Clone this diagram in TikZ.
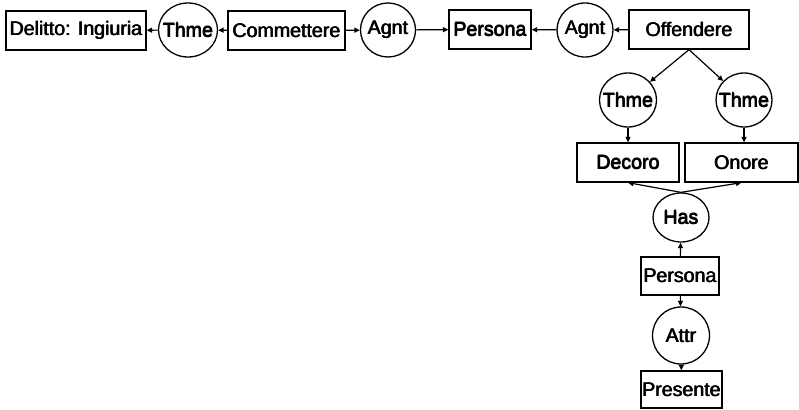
\documentclass[tikz,border=0pt]{standalone}
\usepackage{fontspec}
\setmainfont{Liberation Sans}
\usetikzlibrary{shapes.geometric,arrows.meta}
\newcommand{\hv}[1]{\rlap{#1}\rlap{\kern0.35pt\raisebox{0.3pt}{#1}}\kern0.7pt#1}
\newcommand{\ztxt}[1]{\makebox[0pt]{\hv{#1}}}
\begin{document}
\begin{tikzpicture}[x=1pt,y=-1pt,
  every node/.style={font=\fontsize{19.6}{22}\selectfont, inner sep=0pt, line width=1.3pt},
  cbox/.style={draw, rectangle, minimum height=39pt},
  rel/.style={draw, ellipse},
  link/.style={line width=1.2pt, -{Triangle[length=5.5pt,width=5pt]}}]
\useasboundingbox (0,0) rectangle (799,409);
% top row
\node[cbox, minimum width=140pt] (del) at (76,30.5) {\hv{Delitto: Ingiuria}};
\node[rel, minimum width=59pt, minimum height=54pt] (th1) at (188,30) {\ztxt{Thme}};
\node[cbox, minimum width=117pt] (com) at (286.5,30.5) {\hv{Commettere}};
\node[rel, minimum width=55pt, minimum height=54pt] (ag1) at (388,30) {\ztxt{Agnt}};
\node[cbox, minimum width=82pt] (per1) at (490,29.5) {\hv{Persona}};
\node[rel, minimum width=56pt, minimum height=54pt] (ag2) at (585,30) {\ztxt{Agnt}};
\node[cbox, minimum width=120pt] (off) at (689,29.5) {\hv{Offendere}};
% second row
\node[rel, minimum width=57pt, minimum height=54pt] (thl) at (628,100) {\ztxt{Thme}};
\node[rel, minimum width=56pt, minimum height=54pt] (thr) at (744,100) {\ztxt{Thme}};
% third row
\node[cbox, minimum width=102pt] (dec) at (628,162.5) {\hv{Decoro}};
\node[cbox, minimum width=113pt] (ono) at (741.5,162.5) {\hv{Onore}};
% lower column
\node[rel, minimum width=56pt, minimum height=49pt] (has) at (681,217.5) {\ztxt{Has}};
\node[cbox, minimum width=78pt, minimum height=38pt] (per2) at (680,276) {\hv{Persona}};
\node[rel, minimum width=57pt, minimum height=57pt] (att) at (681,335.5) {\ztxt{Attr}};
\node[cbox, minimum width=81pt, minimum height=37pt] (pre) at (681.5,389.5) {\hv{Presente}};
% connectors
\draw[link] (th1) -- (del);
\draw[link] (com) -- (th1);
\draw[link] (com) -- (ag1);
\draw[link] (ag1) -- (per1);
\draw[link] (ag2) -- (per1);
\draw[link] (off) -- (ag2);
\draw[link] (off.south) -- (thl);
\draw[link] (off.south) -- (thr);
\draw[link] (thl) -- (dec);
\draw[link] (thr) -- (ono.north -| thr);
\draw[link] (has.north) -- (dec.south);
\draw[link] (has.north) -- (ono.south);
\draw[link] (per2) -- (has);
\draw[link] (per2) -- (att);
\draw[link] (att) -- (pre);
\end{tikzpicture}
\end{document}
